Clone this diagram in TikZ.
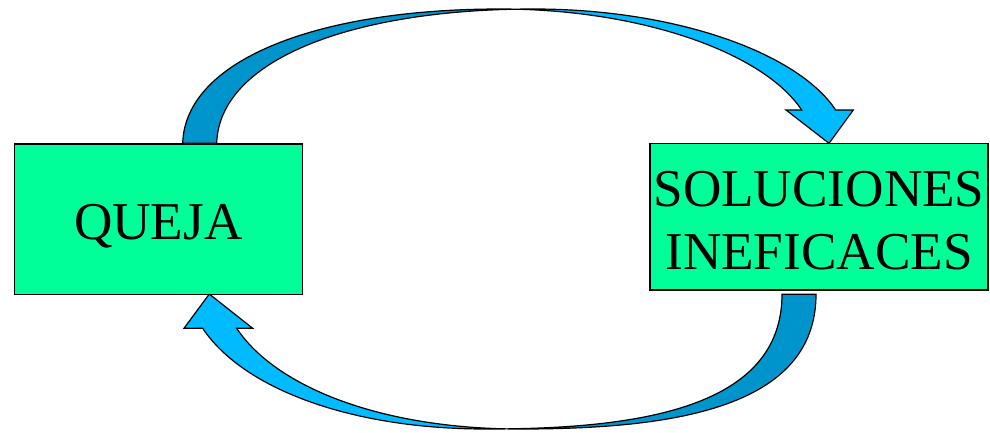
\documentclass[tikz,border=0pt]{standalone}
\usepackage{fontspec}
\setmainfont{Liberation Serif}
\definecolor{boxgreen}{RGB}{0,255,153}
\definecolor{backblue}{RGB}{0,148,204}
\definecolor{frontblue}{RGB}{0,187,255}

\newcommand{\toparrow}{(182.7,143.3) .. controls (185,61) and (315,9) .. (500,9)
  .. controls (640,9) and (763,52) .. (801.7,110) -- (786,110) -- (829,143.3)
  -- (853.3,110) -- (835.7,110) .. controls (797,52) and (674,9) .. (534,9)
  .. controls (349,9) and (219,61) .. (216.7,143.3) -- cycle}
\newcommand{\botarrow}{(816,294.3) .. controls (816,409.3) and (670,429) .. (520,429)
  .. controls (380,429) and (275.2,386.4) .. (236.7,328.3) -- (252.7,328.3)
  -- (209.3,294) -- (184,328.3) -- (202.7,328.3) .. controls (241.2,386.4) and (346,429) .. (486,429)
  .. controls (636,429) and (782,409.3) .. (782,294.3) -- cycle}

\begin{document}
\begin{tikzpicture}[x=1pt,y=-1pt,
  box/.style={draw=black,line width=1.2pt,fill=boxgreen,inner sep=0pt,
    font=\fontsize{53.2}{63}\selectfont},
  arrowline/.style={draw=black,line width=1.2pt}]
\useasboundingbox (0,0) rectangle (990,432);
\begin{scope}
\clip (0,0) rectangle (517,432);
\fill [backblue] \toparrow;
\end{scope}
\begin{scope}
\clip (517,0) rectangle (990,432);
\fill [frontblue] \toparrow;
\end{scope}
\draw [arrowline] \toparrow;
\begin{scope}
\clip (503,0) rectangle (990,432);
\fill [backblue] \botarrow;
\end{scope}
\begin{scope}
\clip (0,0) rectangle (503,432);
\fill [frontblue] \botarrow;
\end{scope}
\draw [arrowline] \botarrow;
\node [box,minimum width=288pt,minimum height=150.3pt,text height=40pt,text depth=0pt] (queja) at (158.3,219.2) {QUEJA};
\node [box,minimum width=338pt,minimum height=146.3pt,align=center,text height=106pt,text depth=0pt] (soluciones) at (819,216.9) {SOLUCIONES\\INEFICACES};
\end{tikzpicture}
\end{document}
